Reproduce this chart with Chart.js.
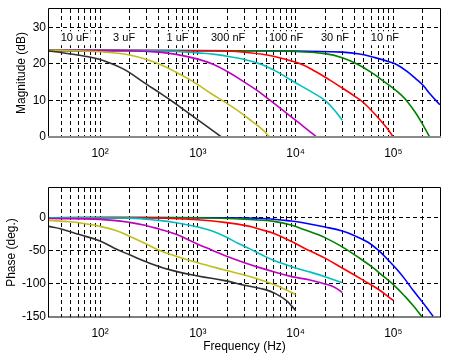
<!DOCTYPE html>
<html><head><meta charset="utf-8">
<script src="https://cdn.jsdelivr.net/npm/chart.js@4"></script>
<style>
html,body{margin:0;padding:0;background:#fff;}
#wrap{position:relative;width:450px;height:358px;overflow:hidden;}
canvas{position:absolute;left:0;}
</style></head><body>
<div id="wrap">
<canvas id="mag" width="450" height="170" style="top:0px"></canvas>
<canvas id="ph" width="450" height="188" style="top:170px"></canvas>
</div>
<script>
// ---- data (frequency Hz, value) ----
const seriesNames = ['10 uF','3 uF','1 uF','300 nF','100 nF','30 nF','10 nF'];
const seriesColors = ['#303030','#BFBF1A','#BF00BF','#00BFBF','#FF0000','#008000','#0000FF'];

const mag10uF  = [[30,23.5],[40,23.1],[50,22.7],[70,22.1],[100,21.2],[130,20.1],[170,18.7],[200,17.6],[300,14.4],[400,12.2],[550,9.7],[700,7.7],[1000,4.7],[1300,2.5],[1740,0]];
const mag3uF   = [[30,23.7],[60,23.6],[100,23.3],[150,22.9],[200,22.4],[300,21.2],[430,19.6],[600,17.7],[800,15.9],[1000,14.3],[1400,11.7],[1880,9.6],[2500,7.4],[3500,4.5],[4500,2.2],[5450,0]];
const mag1uF   = [[30,23.7],[200,23.6],[400,23.2],[600,22.6],[1000,21.3],[1430,19.9],[2000,17.9],[3000,15.0],[4000,12.8],[5500,10.0],[8000,6.6],[11000,3.7],[14000,1.5],[16400,0]];
const mag300nF = [[30,23.7],[300,23.6],[600,23.4],[1000,23.0],[1500,22.6],[2300,21.8],[3200,21.0],[4500,19.8],[6500,17.8],[9300,15.3],[14000,12.6],[20000,10.0],[25000,7.3],[30000,4.6]];
const mag100nF = [[30,23.7],[1000,23.6],[2000,23.5],[3000,23.2],[5100,22.4],[8000,21.2],[11500,19.9],[16000,17.9],[22000,15.7],[30000,13.4],[40000,11.2],[50000,9.3],[68000,5.6],[85000,2.6],[100000,0]];
const mag30nF  = [[30,23.7],[3000,23.6],[10000,23.4],[20000,22.8],[30000,21.7],[43000,19.9],[60000,17.6],[80000,15.2],[100000,13.3],[120000,11.5],[140000,9.6],[170000,6.5],[200000,3.4],[235000,0]];
const mag10nF  = [[30,23.7],[10000,23.5],[30000,23.2],[45000,22.7],[65000,21.7],[90000,20.6],[110000,19.7],[140000,17.8],[170000,15.9],[200000,14.2],[240000,11.6],[300000,8.8]];

const ph10uF  = [[30,-13],[40,-17],[60,-25],[100,-35],[140,-46],[200,-56],[300,-67],[500,-78],[1000,-88],[1880,-95],[3000,-102],[5000,-109],[6100,-114],[8000,-125],[10000,-140]];
const ph3uF   = [[30,-4],[50,-6],[70,-9],[100,-13],[150,-20],[200,-28],[300,-40],[400,-49],[600,-58],[1000,-68],[1880,-79],[3800,-91],[6000,-101],[8000,-109],[10000,-116]];
const ph1uF   = [[30,-1],[100,-2.5],[200,-7],[300,-12],[400,-17],[600,-25],[1000,-40],[1400,-49],[1880,-57],[3000,-68],[4200,-75],[6100,-82],[9100,-89],[14000,-94],[20000,-100],[25000,-105],[30000,-113]];
const ph300nF = [[30,0],[200,-0.5],[400,-4],[600,-7.5],[1000,-14],[1400,-20],[1880,-28],[2600,-39],[3400,-47],[4500,-56],[6100,-65],[8000,-71],[10000,-76],[14000,-82],[20000,-89],[30000,-98]];
const ph100nF = [[30,0],[300,0],[1000,-3],[1880,-7],[3400,-13],[4200,-17],[6100,-24],[9100,-36],[12300,-46],[16000,-54],[20000,-61],[30000,-76],[50000,-95],[70000,-108],[100000,-125]];
const ph30nF  = [[30,0],[1000,0],[3400,-2.5],[6000,-5.5],[9000,-11],[12300,-18],[16000,-24],[20000,-30],[30000,-44],[44000,-60],[60000,-74],[80000,-89],[100000,-101],[130000,-118],[160000,-133],[195000,-149]];
const ph10nF  = [[30,0],[2000,0],[5000,-1.5],[9000,-5],[12300,-8],[20000,-14],[30000,-20],[40000,-27],[55000,-37],[70000,-49],[90000,-65],[110000,-79],[130000,-92],[160000,-110],[195000,-126],[230000,-140],[255000,-149]];

const magSeries = [mag10uF, mag3uF, mag1uF, mag300nF, mag100nF, mag30nF, mag10nF];
const phSeries  = [ph10uF, ph3uF, ph1uF, ph300nF, ph100nF, ph30nF, ph10nF];

// ---- ticks ----
const xGridValues = [40,50,60,70,80,90,100,200,300,400,500,600,700,800,900,1000,2000,3000,4000,5000,6000,7000,8000,9000,10000,20000,30000,40000,50000,60000,70000,80000,90000,100000,200000];
const xLabelValues = [100,1000,10000,100000];
const xLabelTexts  = ['10\u00B2','10\u00B3','10\u2074','10\u2075'];
const magTicks = [0,10,20,30];
const phTicks  = [-150,-100,-50,0];

// ---- annotation labels (frequency, dB) ----
const capLabelFreq = [55,176,620,2040,7980,25300,82000];
const capLabelLevel = 27;

const FONT = 'Liberation Sans, Arial, sans-serif';

function zeroPad(s) { s.paddingTop = 0; s.paddingBottom = 0; s.paddingLeft = 0; s.paddingRight = 0; }

function xScale(h, withTitle) {
  return {
    type: 'logarithmic', min: 30, max: 300000,
    afterBuildTicks: s => { s.ticks = xGridValues.map(v => ({value: v})); },
    afterFit: s => { s.height = h; zeroPad(s); },
    grid: {color: '#000', lineWidth: 1, drawTicks: false},
    border: {display: false, dash: [4, 3]},
    ticks: {
      autoSkip: false, maxRotation: 0, minRotation: 0, padding: 9, color: '#000',
      font: {family: FONT, size: 12},
      callback: v => { const i = xLabelValues.indexOf(Math.round(v)); return i >= 0 ? xLabelTexts[i] : ''; }
    },
    title: withTitle ? {display: true, text: 'Frequency (Hz)', color: '#000', font: {family: FONT, size: 12}, padding: {top: 0, bottom: 4}} : {display: false}
  };
}
function yScale(min, max, ticks, title, tpad) {
  return {
    min: min, max: max,
    afterBuildTicks: s => { s.ticks = ticks.map(v => ({value: v})); },
    afterFit: s => { s.width = 49; zeroPad(s); },
    grid: {color: c => (c.tick && c.tick.value === min) ? 'rgba(0,0,0,0)' : '#000', lineWidth: 1, drawTicks: false},
    border: {display: false, dash: [4, 3]},
    ticks: {padding: 3, color: '#000', font: {family: FONT, size: 12}},
    title: {display: true, text: title, color: '#000', font: {family: FONT, size: 12}, padding: {top: tpad, bottom: 0}}
  };
}
function datasets(list) {
  return list.map((d, i) => ({
    label: seriesNames[i], data: d, borderColor: seriesColors[i], backgroundColor: seriesColors[i],
    borderWidth: 1.6, pointRadius: 0, fill: false, tension: 0.4
  }));
}
function frame(bottomColor, bottomWidth) {
  return {
    id: 'frame',
    afterDatasetsDraw(chart) {
      const a = chart.chartArea, ctx = chart.ctx;
      ctx.save();
      ctx.strokeStyle = '#000'; ctx.lineWidth = 1;
      ctx.beginPath();
      ctx.moveTo(Math.round(a.left) - 0.5, Math.round(a.bottom));
      ctx.lineTo(Math.round(a.left) - 0.5, Math.round(a.top) - 0.5);
      ctx.lineTo(Math.round(a.right) + 0.5, Math.round(a.top) - 0.5);
      ctx.lineTo(Math.round(a.right) + 0.5, Math.round(a.bottom));
      ctx.stroke();
      ctx.strokeStyle = bottomColor; ctx.lineWidth = bottomWidth;
      ctx.beginPath();
      ctx.moveTo(Math.round(a.left) - 1, Math.round(a.bottom));
      ctx.lineTo(Math.round(a.right) + 1, Math.round(a.bottom));
      ctx.stroke();
      ctx.restore();
    }
  };
}
const capLabelsPlugin = {
  id: 'caps',
  afterDatasetsDraw(chart) {
    const ctx = chart.ctx, xs = chart.scales.x, ys = chart.scales.y;
    ctx.save();
    ctx.font = '11px ' + FONT;
    ctx.textAlign = 'center'; ctx.textBaseline = 'middle';
    const y = ys.getPixelForValue(capLabelLevel);
    seriesNames.forEach((t, i) => {
      const x = xs.getPixelForValue(capLabelFreq[i]);
      const w = ctx.measureText(t).width;
      ctx.fillStyle = '#fff';
      ctx.fillRect(x - w / 2 - 2, y - 7, w + 4, 14);
      ctx.fillStyle = '#000';
      ctx.fillText(t, x, y);
    });
    ctx.restore();
  }
};

new Chart(document.getElementById('mag'), {
  type: 'line',
  data: {datasets: datasets(magSeries)},
  options: {
    responsive: false, animation: false, devicePixelRatio: 1,
    layout: {padding: {left: 0, right: 10, top: 9, bottom: 0}},
    plugins: {legend: {display: false}, tooltip: {enabled: false}},
    scales: {x: xScale(33, false), y: yScale(0, 35, magTicks, 'Magnitude (dB)', 14)}
  },
  plugins: [capLabelsPlugin, frame('#8a8a8a', 2)]
});
new Chart(document.getElementById('ph'), {
  type: 'line',
  data: {datasets: datasets(phSeries)},
  options: {
    responsive: false, animation: false, devicePixelRatio: 1,
    layout: {padding: {left: 0, right: 10, top: 18, bottom: 0}},
    plugins: {legend: {display: false}, tooltip: {enabled: false}},
    scales: {x: xScale(41, true), y: yScale(-150, 45, phTicks, 'Phase (deg.)', 4)}
  },
  plugins: [frame('#000', 1)]
});
</script>
</body></html>
